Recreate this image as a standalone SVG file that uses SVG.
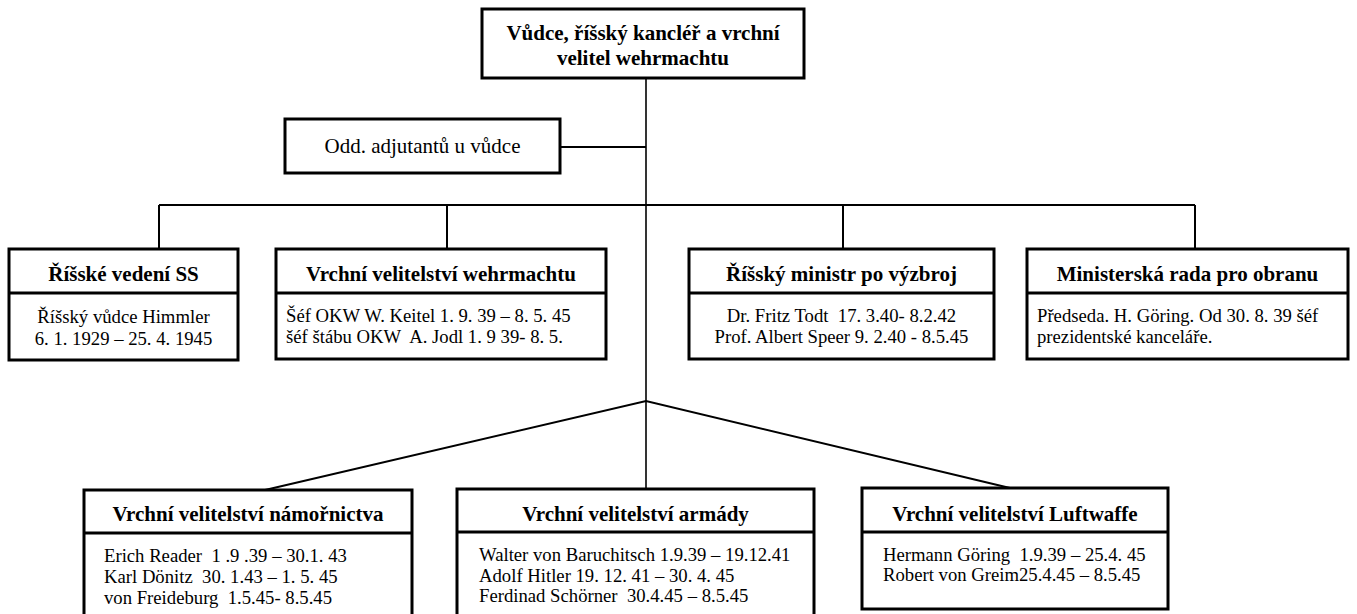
<svg xmlns="http://www.w3.org/2000/svg" width="1357" height="614" viewBox="0 0 1357 614">
<style>
.box{fill:#fff;stroke:#000;stroke-width:3}
.div{stroke:#000;stroke-width:3}
.ln{stroke:#000;stroke-width:2;fill:none}
.h{font-family:"Liberation Serif","Times New Roman",serif;font-weight:bold;font-size:21px;fill:#000;text-anchor:middle}
.t{font-family:"Liberation Serif","Times New Roman",serif;font-size:21px;fill:#000;text-anchor:middle}
.b{font-family:"Liberation Serif","Times New Roman",serif;font-size:18.7px;fill:#000;white-space:pre}
.c{text-anchor:middle}
</style>
<rect width="1357" height="614" fill="#fff"/>
<g id="connectors">
<line class="ln" x1="646" y1="78" x2="646" y2="489" style="stroke-width:1.6"/>
<line class="ln" x1="560" y1="147" x2="646" y2="147"/>
<line class="ln" x1="159" y1="205" x2="1195" y2="205"/>
<line class="ln" x1="159" y1="205" x2="159" y2="249"/>
<line class="ln" x1="447" y1="205" x2="447" y2="249"/>
<line class="ln" x1="843" y1="205" x2="843" y2="249"/>
<line class="ln" x1="1195" y1="205" x2="1195" y2="249"/>
<polyline class="ln" points="265,490 646,401 1010,488"/>
</g>
<g id="top">
<rect class="box" x="482" y="9" width="322" height="69"/>
<text class="h" x="643" y="40">Vůdce, říšský kancléř a vrchní</text>
<text class="h" x="643" y="65">velitel wehrmachtu</text>
</g>
<g id="adjutant">
<rect class="box" x="285" y="119" width="275" height="54"/>
<text class="t" x="422.5" y="153">Odd. adjutantů u vůdce</text>
</g>
<g id="ss">
<rect class="box" x="9" y="249" width="229" height="111"/>
<line class="div" x1="9" y1="293" x2="238" y2="293"/>
<text class="h" x="123.5" y="281">Říšské vedení SS</text>
<text class="b c" x="123.5" y="323">Říšský vůdce Himmler</text>
<text class="b c" x="123.5" y="345">6. 1. 1929 – 25. 4. 1945</text>
</g>
<g id="okw">
<rect class="box" x="276" y="249" width="330" height="110"/>
<line class="div" x1="276" y1="293" x2="606" y2="293"/>
<text class="h" x="441" y="281">Vrchní velitelství wehrmachtu</text>
<text class="b" x="286" y="322">Šéf OKW W. Keitel 1. 9. 39 – 8. 5. 45</text>
<text class="b" x="286" y="343">šéf štábu OKW  A. Jodl 1. 9 39- 8. 5.</text>
</g>
<g id="ministr">
<rect class="box" x="689" y="249" width="305" height="110"/>
<line class="div" x1="689" y1="293" x2="994" y2="293"/>
<text class="h" x="841.5" y="281">Říšský ministr po výzbroj</text>
<text class="b c" x="841.5" y="322">Dr. Fritz Todt  17. 3.40- 8.2.42</text>
<text class="b c" x="841.5" y="343">Prof. Albert Speer 9. 2.40 - 8.5.45</text>
</g>
<g id="rada">
<rect class="box" x="1027" y="249" width="321" height="110"/>
<line class="div" x1="1027" y1="293" x2="1348" y2="293"/>
<text class="h" x="1187.5" y="281">Ministerská rada pro obranu</text>
<text class="b" x="1037" y="322">Předseda. H. Göring. Od 30. 8. 39 šéf</text>
<text class="b" x="1037" y="343">prezidentské kanceláře.</text>
</g>
<g id="namornictvo">
<rect class="box" x="84" y="490" width="328" height="130"/>
<line class="div" x1="84" y1="533" x2="412" y2="533"/>
<text class="h" x="248" y="521">Vrchní velitelství námořnictva</text>
<text class="b" x="104" y="562">Erich Reader  1 .9 .39 – 30.1. 43</text>
<text class="b" x="104" y="583">Karl Dönitz  30. 1.43 – 1. 5. 45</text>
<text class="b" x="104" y="604">von Freideburg  1.5.45- 8.5.45</text>
</g>
<g id="armada">
<rect class="box" x="457" y="489" width="357" height="131"/>
<line class="div" x1="457" y1="532" x2="814" y2="532"/>
<text class="h" x="635.5" y="521">Vrchní velitelství armády</text>
<text class="b" x="479" y="561">Walter von Baruchitsch 1.9.39 – 19.12.41</text>
<text class="b" x="479" y="582">Adolf Hitler 19. 12. 41 – 30. 4. 45</text>
<text class="b" x="479" y="602">Ferdinad Schörner  30.4.45 – 8.5.45</text>
</g>
<g id="luftwaffe">
<rect class="box" x="862" y="488" width="306" height="121"/>
<line class="div" x1="862" y1="532" x2="1168" y2="532"/>
<text class="h" x="1015" y="521">Vrchní velitelství Luftwaffe</text>
<text class="b" x="883" y="561">Hermann Göring  1.9.39 – 25.4. 45</text>
<text class="b" x="883" y="581">Robert von Greim25.4.45 – 8.5.45</text>
</g>
</svg>
